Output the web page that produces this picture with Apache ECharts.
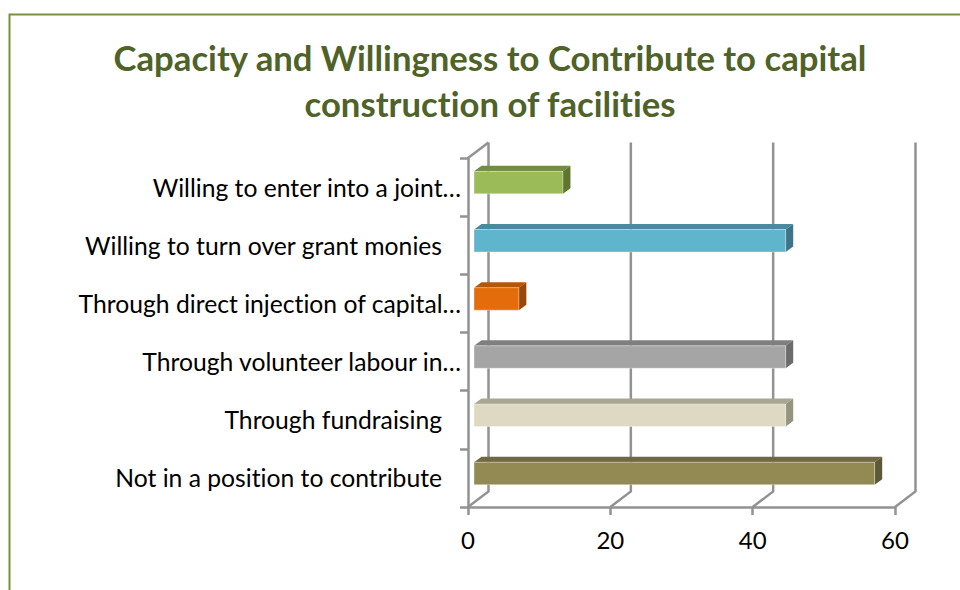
<!DOCTYPE html>
<html>
<head>
<meta charset="utf-8">
<style>
  html, body { margin: 0; padding: 0; background: #fff; }
  #chart { width: 960px; height: 590px; }
  #chart text { font-variant-ligatures: none; }
</style>
<script src="https://cdn.jsdelivr.net/npm/echarts@6/dist/echarts.min.js"></script>
</head>
<body>
<div id="chart"></div>
<script>
// bottom to top, same order as the category axis
const categories = [
  'Not in a position to contribute',
  'Through fundraising',
  'Through volunteer labour in…',
  'Through direct injection of capital…',
  'Willing to turn over grant monies',
  'Willing to enter into a joint…'
];
const values = [56.3, 43.8, 43.8, 6.3, 43.8, 12.5];
const xTicks = [0, 20, 40, 60];

// front, top, side face of each bar
const faceColors = [
  ['#938953', '#6f6842', '#5d5835'],
  ['#ddd9c3', '#a8a794', '#94947f'],
  ['#a5a5a5', '#7f7f7f', '#6c6c6c'],
  ['#e46c0a', '#b65708', '#97480a'],
  ['#5fb5cc', '#4a8a9d', '#3f7488'],
  ['#9bbb59', '#738c45', '#60752f']
];

const wallColor = '#929292';
const wallDx = 20.5, wallDy = -15.5;
const barInset = 6, barDepthX = 7.5, barDepthY = -5.5, barHeight = 22.5, barShift = -4.5;

function renderWall(params, api) {
  const x = api.coord([api.value(0), 0])[0];
  const sys = params.coordSys;
  const bottom = sys.y + sys.height;
  const style = { stroke: wallColor, lineWidth: 2.5, fill: null };
  const children = [
    { type: 'polyline', shape: { points: [[x, bottom], [x + wallDx, bottom + wallDy], [x + wallDx, sys.y + wallDy]] }, style: style }
  ];
  if (params.dataIndex === 0) {
    children.push({ type: 'line', shape: { x1: x, y1: sys.y, x2: x + wallDx, y2: sys.y + wallDy }, style: style });
  }
  return { type: 'group', children: children };
}

function renderBar(params, api) {
  const idx = api.value(1);
  const start = api.coord([0, idx]);
  const end = api.coord([api.value(0), idx]);
  const x0 = start[0] + barInset;
  const x1 = end[0] + barInset;
  const y0 = start[1] + barShift - barHeight / 2;
  const y1 = y0 + barHeight;
  const c = faceColors[params.dataIndex];
  return {
    type: 'group',
    children: [
      { type: 'polygon', shape: { points: [[x0, y0], [x1, y0], [x1 + barDepthX, y0 + barDepthY], [x0 + barDepthX, y0 + barDepthY]] }, style: { fill: c[1] } },
      { type: 'polygon', shape: { points: [[x1, y0], [x1 + barDepthX, y0 + barDepthY], [x1 + barDepthX, y1 + barDepthY], [x1, y1]] }, style: { fill: c[2] } },
      { type: 'rect', shape: { x: x0, y: y0, width: x1 - x0, height: barHeight }, style: { fill: c[0], stroke: 'rgba(255,255,255,0.35)', lineWidth: 1 } }
    ]
  };
}

const chart = echarts.init(document.getElementById('chart'), null, { renderer: 'svg' });
chart.setOption({
  backgroundColor: '#fff',
  animation: false,
  title: {
    text: 'Capacity and Willingness to Contribute to capital\nconstruction of facilities',
    left: 485,
    top: 29,
    textAlign: 'center',
    textStyle: { fontFamily: 'Lato', fontWeight: 'bold', fontSize: 34.7, lineHeight: 46, color: '#4f6228' }
  },
  graphic: [
    { type: 'polyline', shape: { points: [[9.5, 590], [9.5, 14.5], [960, 14.5]] }, style: { stroke: '#76923c', lineWidth: 2, fill: null } }
  ],
  grid: { left: 468, right: 65, top: 158, bottom: 83 },
  xAxis: {
    type: 'value',
    min: xTicks[0],
    max: xTicks[xTicks.length - 1],
    interval: 20,
    splitLine: { show: false },
    axisLine: { show: true, lineStyle: { color: wallColor, width: 2.5 } },
    axisTick: { show: true, length: 8, lineStyle: { color: wallColor, width: 2.5 } },
    axisLabel: { fontFamily: 'Lato', fontSize: 24, color: '#000', margin: 20 }
  },
  yAxis: {
    type: 'category',
    data: categories,
    axisLine: { show: true, lineStyle: { color: wallColor, width: 2.5 } },
    axisTick: { show: true, length: 8, lineStyle: { color: wallColor, width: 2.5 } },
    axisLabel: {
      fontFamily: 'Lato',
      fontSize: 24.7,
      color: '#000',
      margin: 7,
      padding: [6, 0, 0, 0],
      // untruncated labels sit a little further from the axis
      formatter: function (v) { return v.endsWith('…') ? v : v + '\u00a0\u00a0\u00a0'; }
    }
  },
  series: [
    {
      type: 'custom',
      silent: true,
      renderItem: renderWall,
      encode: { x: 0, y: 1 },
      clip: false,
      z: 1,
      data: xTicks.map(function (t) { return [t, 0]; })
    },
    {
      type: 'custom',
      silent: true,
      renderItem: renderBar,
      encode: { x: 0, y: 1 },
      clip: false,
      z: 2,
      data: values.map(function (v, i) { return [v, i]; })
    }
  ]
});
</script>
</body>
</html>
